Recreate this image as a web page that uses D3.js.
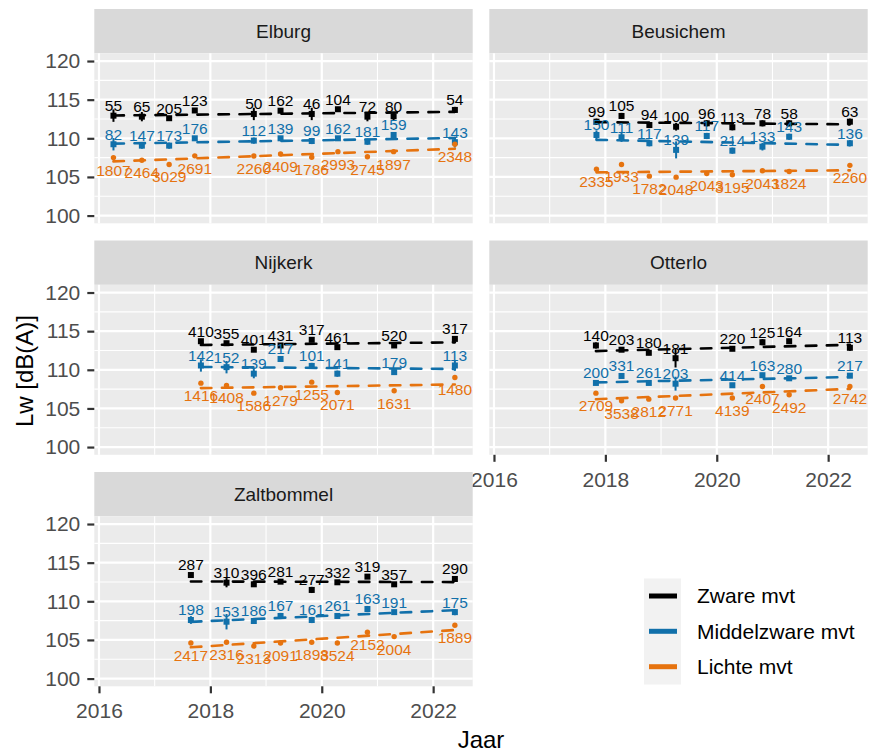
<!DOCTYPE html>
<html><head><meta charset="utf-8">
<script src="https://cdn.jsdelivr.net/npm/d3@7"></script>
<style>body{margin:0;background:#fff}svg{display:block;font-family:"Liberation Sans",Arial,sans-serif}</style>
</head><body><svg id="c" width="869" height="753"></svg>
<script>
// ---------- data ----------
const siteNames = ["Elburg","Beusichem","Nijkerk","Otterlo","Zaltbommel"];
const seriesNames = ["Zware mvt","Middelzware mvt","Lichte mvt"];
const seriesColors = ["#000000","#1170aa","#e6730f"];
const yTicks = [100,105,110,115,120];
const yMinor = [102.5,107.5,112.5,117.5];
const xTicks = [2016,2018,2020,2022];
const xMinor = [2017,2019,2021];

const elburgYears  = [2016.26,2016.77,2017.26,2017.72,2018.78,2019.26,2019.82,2020.29,2020.82,2021.29,2022.39];
const elburgZware  = [112.93,112.8,112.6,113.6,113.15,113.57,113.15,113.76,112.8,112.85,113.67];
const elburgZwareN = [55,65,205,123,50,162,46,104,72,80,54];
const elburgZwareE = [0.8,0.6,0.3,0.3,0.8,0.3,0.8,0.3,0.6,0.5,0.4];
const elburgMiddel  = [109.23,109.05,109.05,110.0,109.7,110.0,109.65,110.0,109.56,110.43,109.5];
const elburgMiddelN = [82,147,173,176,112,139,99,162,181,159,143];
const elburgMiddelE = [0.8,0.4,0.4,0.3,0.4,0.3,0.4,0.3,0.4,0.3,0.7];
const elburgLicht  = [107.5,107.15,106.6,107.73,107.71,107.97,107.55,108.27,107.62,108.27,109.23];
const elburgLichtN = [1807,2464,3029,2691,2260,2409,1786,2993,2745,1897,2348];
const elburgLichtE = [0.2,0.2,0.2,0.2,0.2,0.2,0.2,0.2,0.2,0.2,0.2];

const beusYears  = [2017.84,2018.29,2018.79,2019.27,2019.82,2020.28,2020.82,2021.30,2022.39];
const beusZware  = [112.15,112.89,111.72,111.5,111.94,111.43,111.94,111.94,112.15];
const beusZwareN = [99,105,94,100,96,113,78,58,63];
const beusZwareE = [0.4,0.4,0.4,0.5,0.4,0.4,0.4,0.4,0.4];
const beusMiddel  = [110.43,110.13,109.36,108.5,110.3,108.4,108.92,110.2,109.36];
const beusMiddelN = [150,111,117,139,117,214,133,143,136];
const beusMiddelE = [0.6,0.6,0.4,1.1,0.4,0.4,0.5,0.4,0.4];
const beusLicht  = [106.0,106.6,105.1,104.97,105.45,105.28,105.8,105.7,106.5];
const beusLichtN = [2335,1933,1782,2048,2043,3195,2043,1824,2260];
const beusLichtE = [0.2,0.2,0.2,0.2,0.2,0.2,0.2,0.2,0.2];

const nijkYears  = [2017.83,2018.29,2018.78,2019.26,2019.82,2020.28,2021.30,2022.39];
const nijkZware  = [113.7,113.44,112.6,113.15,113.88,112.93,113.15,114.0];
const nijkZwareN = [410,355,401,431,317,461,520,317];
const nijkZwareE = [0.3,0.3,0.3,0.3,0.3,0.3,0.3,0.3];
const nijkMiddel  = [110.56,110.34,109.5,111.4,110.5,109.5,109.7,110.56];
const nijkMiddelN = [142,152,139,217,101,141,179,113];
const nijkMiddelE = [0.8,0.8,0.6,0.3,0.4,0.4,0.3,0.7];
const nijkLicht  = [108.27,107.97,106.98,107.67,108.4,107.07,107.28,109.0];
const nijkLichtN = [1416,1408,1586,1279,1255,2071,1631,1480];
const nijkLichtE = [0.2,0.2,0.2,0.2,0.2,0.2,0.2,0.2];

const otteYears  = [2017.83,2018.29,2018.78,2019.26,2020.28,2020.82,2021.30,2022.39];
const otteZware  = [113.15,112.6,112.2,111.5,112.72,113.57,113.7,112.85];
const otteZwareN = [140,203,180,181,220,125,164,113];
const otteZwareE = [0.4,0.3,0.3,1.2,0.3,0.4,0.3,0.4];
const otteMiddel  = [108.3,109.2,108.3,108.2,108.0,109.3,108.9,109.24];
const otteMiddelN = [200,331,261,203,414,163,280,217];
const otteMiddelE = [0.3,0.3,0.3,0.9,0.3,0.3,0.3,0.3];
const otteLicht  = [106.98,106.0,106.2,106.36,106.36,107.83,106.78,107.83];
const otteLichtN = [2709,3538,2812,2771,4139,2407,2492,2742];
const otteLichtE = [0.2,0.2,0.2,0.2,0.2,0.2,0.2,0.2];

const zaltYears  = [2017.65,2018.29,2018.78,2019.26,2019.82,2020.28,2020.82,2021.30,2022.39];
const zaltZware  = [113.4,112.41,112.2,112.54,111.47,112.46,113.19,112.2,112.89];
const zaltZwareN = [287,310,396,281,277,332,319,357,290];
const zaltZwareE = [0.3,0.6,0.3,0.3,0.4,0.3,0.3,0.3,0.3];
const zaltMiddel  = [107.58,107.36,107.45,108.1,107.58,108.1,109.0,108.6,108.6];
const zaltMiddelN = [198,153,186,167,161,261,163,191,175];
const zaltMiddelE = [0.5,1.0,0.3,0.4,0.4,0.3,0.4,0.3,0.4];
const zaltLicht  = [104.6,104.7,104.2,104.6,104.7,104.6,106.0,105.43,106.9];
const zaltLichtN = [2417,2316,2313,2091,1898,3524,2152,2004,1889];
const zaltLichtE = [0.2,0.2,0.2,0.2,0.2,0.2,0.2,0.2,0.2];

const panels = [
  {years: elburgYears, s: [[elburgZware,elburgZwareN,elburgZwareE],[elburgMiddel,elburgMiddelN,elburgMiddelE],[elburgLicht,elburgLichtN,elburgLichtE]]},
  {years: beusYears, s: [[beusZware,beusZwareN,beusZwareE],[beusMiddel,beusMiddelN,beusMiddelE],[beusLicht,beusLichtN,beusLichtE]]},
  {years: nijkYears, s: [[nijkZware,nijkZwareN,nijkZwareE],[nijkMiddel,nijkMiddelN,nijkMiddelE],[nijkLicht,nijkLichtN,nijkLichtE]]},
  {years: otteYears, s: [[otteZware,otteZwareN,otteZwareE],[otteMiddel,otteMiddelN,otteMiddelE],[otteLicht,otteLichtN,otteLichtE]]},
  {years: zaltYears, s: [[zaltZware,zaltZwareN,zaltZwareE],[zaltMiddel,zaltMiddelN,zaltMiddelE],[zaltLicht,zaltLichtN,zaltLichtE]]}
];

// ---------- layout ----------
const colX = [94.3, 489.3];
const stripTop = [9, 240.5, 472];
const PW = 378.4, SH = 44.3, PH = 170;
const x = d3.scaleLinear().domain([2015.916, 2022.71]).range([0, PW]);
const y = d3.scaleLinear().domain([99, 121]).range([PH, 0]);

const svg = d3.select("#c");

function linreg(xs, ys) {
  const mx = d3.mean(xs), my = d3.mean(ys);
  let num = 0, den = 0;
  xs.forEach((v,i) => { num += (v-mx)*(ys[i]-my); den += (v-mx)*(v-mx); });
  const b = num/den;
  return t => my + b*(t-mx);
}

panels.forEach((p, i) => {
  const col = i % 2, row = Math.floor(i / 2);
  const px = colX[col], sy = stripTop[row], py = sy + SH;
  svg.append("rect").attr("x", px).attr("y", sy).attr("width", PW).attr("height", SH).attr("fill", "#d9d9d9");
  svg.append("text").attr("x", px + PW/2).attr("y", sy + SH/2).attr("dy", "0.35em")
    .attr("text-anchor", "middle").attr("font-size", 19).attr("fill", "#1a1a1a").text(siteNames[i]);
  const g = svg.append("g").attr("transform", `translate(${px},${py})`);
  g.append("rect").attr("width", PW).attr("height", PH).attr("fill", "#ebebeb");
  g.selectAll(".ymin").data(yMinor).join("line").attr("x1",0).attr("x2",PW)
    .attr("y1", d=>y(d)).attr("y2", d=>y(d)).attr("stroke","#fff").attr("stroke-width",1.1);
  g.selectAll(".xmin").data(xMinor).join("line").attr("y1",0).attr("y2",PH)
    .attr("x1", d=>x(d)).attr("x2", d=>x(d)).attr("stroke","#fff").attr("stroke-width",1.1);
  g.selectAll(".ymaj").data(yTicks).join("line").attr("x1",0).attr("x2",PW)
    .attr("y1", d=>y(d)).attr("y2", d=>y(d)).attr("stroke","#fff").attr("stroke-width",2.2);
  g.selectAll(".xmaj").data(xTicks).join("line").attr("y1",0).attr("y2",PH)
    .attr("x1", d=>x(d)).attr("x2", d=>x(d)).attr("stroke","#fff").attr("stroke-width",2.2);

  p.s.forEach((ser, k) => {
    const [vals, ns, errs] = ser;
    const c = seriesColors[k];
    const pts = vals.map((v,j) => ({t: p.years[j], v, n: ns[j], e: errs[j]}));
    g.append("g").selectAll("line").data(pts).join("line")
      .attr("x1", d=>x(d.t)).attr("x2", d=>x(d.t))
      .attr("y1", d=>y(d.v - d.e)).attr("y2", d=>y(d.v + d.e))
      .attr("stroke", c).attr("stroke-width", 2);
    if (k < 2) {
      g.append("g").selectAll("rect").data(pts).join("rect")
        .attr("x", d=>x(d.t)-3).attr("y", d=>y(d.v)-3).attr("width",6).attr("height",6).attr("fill", c);
    } else {
      g.append("g").selectAll("circle").data(pts).join("circle")
        .attr("cx", d=>x(d.t)).attr("cy", d=>y(d.v)).attr("r", 2.7).attr("fill", c);
    }
  });
  p.s.forEach((ser, k) => {
    const f = linreg(p.years, ser[0]);
    const x0 = d3.min(p.years), x1 = d3.max(p.years);
    g.append("line").attr("x1", x(x0)).attr("x2", x(x1)).attr("y1", y(f(x0))).attr("y2", y(f(x1)))
      .attr("stroke", seriesColors[k]).attr("stroke-width", 2.6)
      .attr("stroke-dasharray", "10.5,10.5").attr("stroke-linecap","round");
  });
  p.s.forEach((ser, k) => {
    const [vals, ns] = ser;
    const pts = vals.map((v,j) => ({t: p.years[j], v, n: ns[j]}));
    g.append("g").selectAll("text").data(pts).join("text")
      .attr("x", d=>x(d.t)).attr("y", d=>y(d.v) + (k < 2 ? -10 : 12.5)).attr("dy","0.35em")
      .attr("text-anchor","middle").attr("font-size",15.5).attr("fill", seriesColors[k]).text(d=>d.n);
  });

  if (col === 0) {
    const ax = g.append("g").call(d3.axisLeft(y).tickValues(yTicks).tickSize(7).tickPadding(7).tickFormat(d3.format("d")));
    ax.select(".domain").remove();
    ax.selectAll("line").attr("stroke","#333").attr("stroke-width",2.2);
    ax.selectAll("text").attr("fill","#4d4d4d").attr("font-size",21).attr("font-family",null);
  }
  if (i === 3 || i === 4) {
    const ax = g.append("g").attr("transform",`translate(0,${PH})`)
      .call(d3.axisBottom(x).tickValues(xTicks).tickSize(7).tickPadding(10).tickFormat(d3.format("d")));
    ax.select(".domain").remove();
    ax.selectAll("line").attr("stroke","#333").attr("stroke-width",2.2);
    ax.selectAll("text").attr("fill","#4d4d4d").attr("font-size",21).attr("font-family",null);
  }
});

svg.append("text").attr("x", 481).attr("y", 740).attr("dy","0.35em").attr("text-anchor","middle")
  .attr("font-size",24).attr("fill","#000").text("Jaar");
svg.append("text").attr("transform","translate(25,371) rotate(-90)").attr("dy","0.35em").attr("text-anchor","middle")
  .attr("font-size",24).attr("fill","#000").text("Lw [dB(A)]");

const legY = [596, 631.3, 666.7];
const leg = svg.append("g");
leg.append("rect").attr("x",644).attr("y",578.5).attr("width",37).attr("height",106).attr("fill","#f2f2f2");
seriesNames.forEach((n,k) => {
  leg.append("line").attr("x1",649).attr("x2",677).attr("y1",legY[k]).attr("y2",legY[k])
    .attr("stroke",seriesColors[k]).attr("stroke-width",5);
  leg.append("text").attr("x",697).attr("y",legY[k]).attr("dy","0.35em").attr("font-size",21)
    .attr("fill","#000").text(n);
});
</script></body></html>
